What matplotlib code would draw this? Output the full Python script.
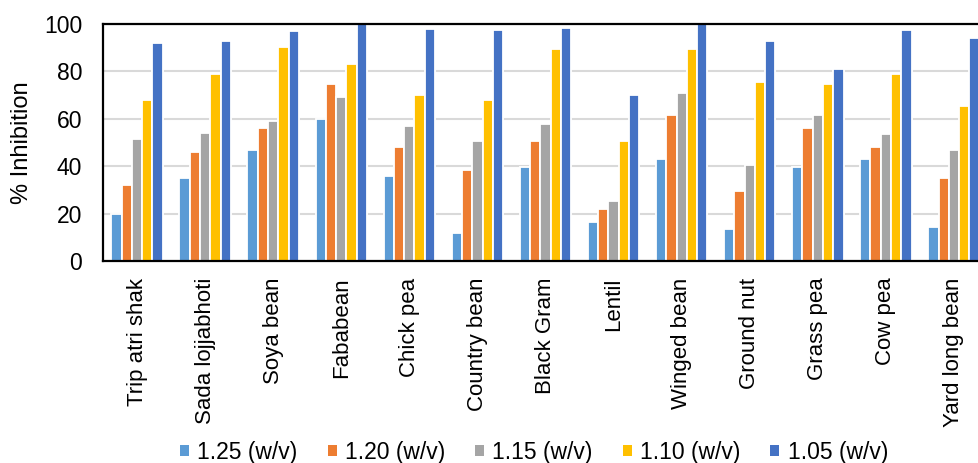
import numpy as np
import matplotlib
matplotlib.use("Agg")
import matplotlib.pyplot as plt
from matplotlib.patches import Patch

plt.rcParams['font.family'] = ['Liberation Sans', 'DejaVu Sans']

categories = ["Trip atri shak", "Sada lojjabhoti", "Soya bean", "Fababean", "Chick pea",
              "Country bean", "Black Gram", "Lentil", "Winged bean", "Ground nut",
              "Grass pea", "Cow pea", "Yard long bean"]
series_names = ["1.25 (w/v)", "1.20 (w/v)", "1.15 (w/v)", "1.10 (w/v)", "1.05 (w/v)"]
s125 = [20, 35, 47, 60, 36, 12, 39.5, 16.5, 43, 13.5, 39.5, 43, 14.5]
s120 = [32, 46, 56, 74.5, 48, 38.5, 50.5, 22, 61.5, 29.5, 56, 48, 35]
s115 = [51.5, 54, 59, 69, 57, 50.5, 58, 25.5, 71, 40.5, 61.5, 53.5, 47]
s110 = [68, 79, 90.5, 83, 70, 68, 89.5, 50.5, 89.5, 75.5, 74.5, 79, 65.5]
s105 = [92, 93, 97, 100, 98, 97.5, 98.5, 70, 100, 93, 81, 97.5, 94]
series = [s125, s120, s115, s110, s105]
colors = ["#5B9BD5", "#ED7D31", "#A5A5A5", "#FFC000", "#4472C4"]

W, H = 979, 463
fig = plt.figure(figsize=(W / 100, H / 100), dpi=100)
left, right, top, bottom = 103, 988, 24, 261
ax = fig.add_axes([left / W, 1 - bottom / H, (right - left) / W, (bottom - top) / H])

x = np.arange(len(categories))
pitch = 0.151
for i, (vals, c) in enumerate(zip(series, colors)):
    ax.bar(x + (i - 2) * pitch, vals, width=pitch, color=c, edgecolor="white",
           linewidth=1.3, zorder=3)

ax.set_xlim(-0.5, len(categories) - 0.5)
ax.set_ylim(0, 100)
ax.set_yticks(np.arange(0, 101, 20))
ax.yaxis.grid(True, color="#D9D9D9", linewidth=1.5, zorder=0)
ax.set_axisbelow(True)
ax.set_xticks(x)
ax.set_xticklabels(categories, rotation=90, fontsize=16)
ax.tick_params(axis='x', length=0, pad=12)
ax.tick_params(axis='y', length=0, pad=15, labelsize=16.5)
for s in ["left", "bottom", "top", "right"]:
    ax.spines[s].set_color("black")
    ax.spines[s].set_linewidth(1.6)
    ax.spines[s].set_zorder(5)

ax.set_ylabel("% Inhibition", fontsize=17)
ax.yaxis.set_label_coords((33 - left) / (right - left), 0.5)

handles = [Patch(facecolor=c, edgecolor="none") for c in colors]
fig.legend(handles, series_names, loc="center", bbox_to_anchor=(534 / W, 1 - 452 / H),
           ncol=5, frameon=False, fontsize=16.5, handlelength=0.4, handleheight=0.4,
           handletextpad=0.36, columnspacing=1.3, borderpad=0)

fig.savefig("out.png", dpi=100)
